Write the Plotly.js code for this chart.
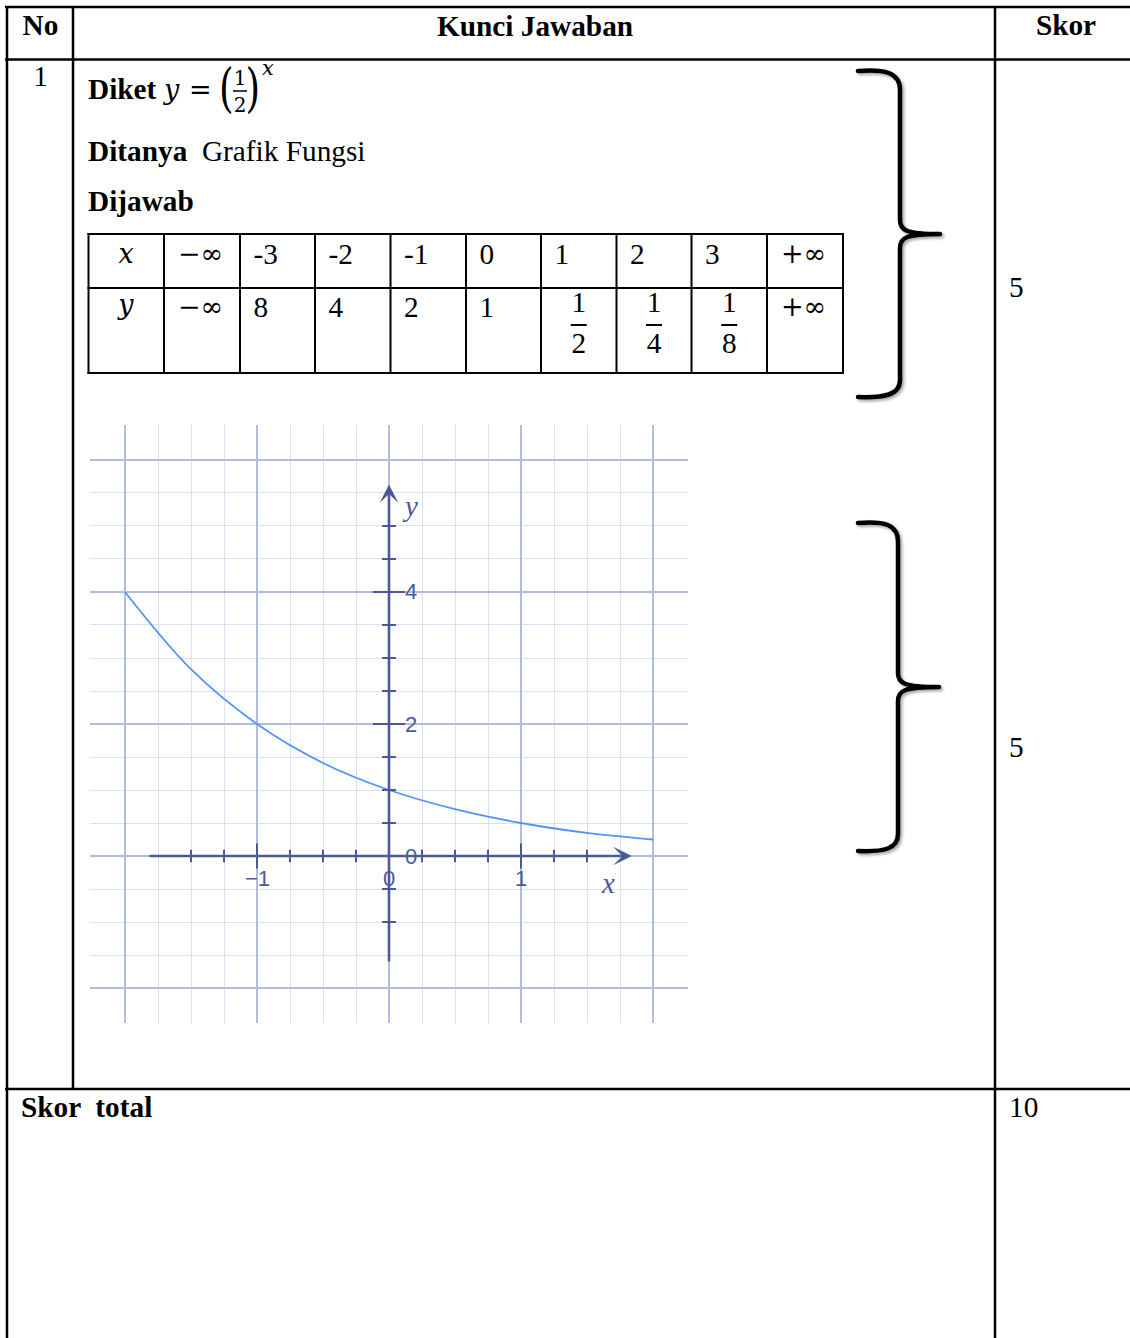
<!DOCTYPE html>
<html>
<head>
<meta charset="utf-8">
<script src="https://cdn.plot.ly/plotly-3.0.1.min.js"></script>
<style>
  html, body { margin: 0; padding: 0; background: #fff; width: 1130px; height: 1338px; overflow: hidden; }
  #sheet { position: absolute; left: 0; top: 0; }
  #graph { position: absolute; left: 90px; top: 425px; width: 598px; height: 598px; }
  text { white-space: pre; }
</style>
</head>
<body>
<svg id="sheet" width="1130" height="1338" xmlns="http://www.w3.org/2000/svg"></svg>
<div id="graph"></div>
<script>
// ---- value table for y = (1/2)^x ----
const tableXLabel = 'x';
const tableYLabel = 'y';
const tableXValues = ['\u2212\u221e', '-3', '-2', '-1', '0', '1', '2', '3', '+\u221e'];
const tableYValues = ['\u2212\u221e', '8', '4', '2', '1', '1/2', '1/4', '1/8', '+\u221e'];

// ---- scores ----
const scoreParts = ['5', '5'];
const scoreTotal = '10';

// ---- graph of the function ----
const curveX = [-2, -1.5, -1, -0.5, 0, 0.5, 1, 1.5, 2];
const curveY = [4, 2.83, 2, 1.41, 1, 0.71, 0.5, 0.35, 0.25];

const gridXMajor = [-2, -1, 0, 1, 2];
const gridXMinor = [-1.75, -1.5, -1.25, -0.75, -0.5, -0.25, 0.25, 0.5, 0.75, 1.25, 1.5, 1.75];
const gridYMajor = [-2, 0, 2, 4, 6];
const gridYMinor = [-1.5, -1, -0.5, 0.5, 1, 1.5, 2.5, 3, 3.5, 4.5, 5, 5.5];

const xTicksMajor = [-1, 0, 1];
const xTicksMinor = [-1.5, -1.25, -0.75, -0.5, -0.25, 0.25, 0.5, 0.75, 1.25, 1.5];
const yTicksMajor = [0, 2, 4];
const yTicksMinor = [-1, -0.5, 0.5, 1, 1.5, 2.5, 3, 3.5, 4.5, 5];

const xTickLabels = [{v: -1, t: '\u22121'}, {v: 0, t: '0'}, {v: 1, t: '1'}];
const yTickLabels = [{v: 0, t: '0'}, {v: 2, t: '2'}, {v: 4, t: '4'}];

// ---------------- document sheet (table, text, braces) ----------------
const NS = 'http://www.w3.org/2000/svg';
const svg = document.getElementById('sheet');
const SERIF = "'Liberation Serif', 'Times New Roman', serif";
const MATH = "'DejaVu Serif', 'Liberation Serif', serif";
const FS = 29.3;

function el(tag, attrs, parent) {
  const e = document.createElementNS(NS, tag);
  for (const k in attrs) e.setAttribute(k, attrs[k]);
  (parent || svg).appendChild(e);
  return e;
}
function line(x1, y1, x2, y2, w) {
  el('line', {x1, y1, x2, y2, stroke: '#000', 'stroke-width': w || 2.5});
}
function txt(str, x, y, opt) {
  opt = opt || {};
  const a = {
    x, y,
    'font-family': opt.family || SERIF,
    'font-size': opt.size || FS,
    'font-weight': opt.bold ? 'bold' : 'normal',
    'font-style': opt.italic ? 'italic' : 'normal',
    'text-anchor': opt.anchor || 'start',
    fill: '#000'
  };
  if (opt.transform) a.transform = opt.transform;
  const t = el('text', a);
  t.textContent = str;
  return t;
}

// outer table frame
line(5, 7, 1130, 7);
line(5, 59.5, 1130, 59.5);
line(5, 1089, 1130, 1089);
line(7, 6, 7, 1338);
line(73, 6, 73, 1089);
line(995, 6, 995, 1338);

// header
txt('No', 40.5, 35, {bold: true, anchor: 'middle'});
txt('Kunci Jawaban', 535, 36, {bold: true, anchor: 'middle'});
txt('Skor', 1066, 35, {bold: true, anchor: 'middle'});

// row 1
txt('1', 40.5, 86, {anchor: 'middle'});
txt('Diket', 88, 99, {bold: true});
txt('y', 164, 99, {italic: true, family: MATH, size: 27});
txt('=', 189, 99, {family: MATH, size: 27});
txt('(', 0, 0, {family: MATH, size: 52, transform: 'translate(219,106) scale(0.72,1)'});
txt('1', 240, 85, {family: MATH, size: 20, anchor: 'middle'});
el('line', {x1: 233, y1: 91, x2: 247, y2: 91, stroke: '#000', 'stroke-width': 1.5});
txt('2', 240, 112, {family: MATH, size: 20, anchor: 'middle'});
txt(')', 0, 0, {family: MATH, size: 52, transform: 'translate(245.5,106) scale(0.72,1)'});
txt('x', 262, 75, {italic: true, family: MATH, size: 21});

const t2 = el('text', {x: 88, y: 161, 'font-family': SERIF, 'font-size': FS, fill: '#000'});
const s1 = el('tspan', {'font-weight': 'bold'}, t2); s1.textContent = 'Ditanya';
const s2 = el('tspan', {}, t2); s2.textContent = '  Grafik Fungsi';
txt('Dijawab', 88, 211, {bold: true});

// value table
const colEdges = [88.5, 164, 240, 315, 390.5, 466, 541, 616.5, 691.5, 767, 843];
const rowTop = 234, rowMid = 288, rowBot = 373;
colEdges.forEach(x => line(x, rowTop - 1, x, rowBot + 1, 2));
[rowTop, rowMid, rowBot].forEach(y => line(colEdges[0] - 1, y, colEdges[colEdges.length - 1] + 1, y, 2));

txt(tableXLabel, 126, 263, {italic: true, family: MATH, size: 27, anchor: 'middle'});
txt(tableYLabel, 126, 314, {italic: true, family: MATH, size: 27, anchor: 'middle'});

function cellValue(v, i, baseline, fracTop, fracBot, barY) {
  const c0 = colEdges[i + 1];
  const cx = (c0 + colEdges[i + 2]) / 2;
  if (v.indexOf('/') > 0) {
    const [num, den] = v.split('/');
    txt(num, cx, fracTop, {anchor: 'middle'});
    el('line', {x1: cx - 8, y1: barY, x2: cx + 8, y2: barY, stroke: '#000', 'stroke-width': 2});
    txt(den, cx, fracBot, {anchor: 'middle'});
  } else if (v.indexOf('\u221e') >= 0) {
    txt(v, c0 + 14, baseline - 1, {family: MATH, size: 27});
  } else {
    txt(v, c0 + 13.5, baseline);
  }
}
tableXValues.forEach((v, i) => cellValue(v, i, 264));
tableYValues.forEach((v, i) => cellValue(v, i, 317, 312, 353, 325));

// scores
txt(scoreParts[0], 1009, 297);
txt(scoreParts[1], 1009, 757);
txt('Skor  total', 21, 1117, {bold: true});
txt(scoreTotal, 1009, 1117);

// curly braces
const defs = el('defs', {});
const flt = el('filter', {id: 'soft', x: '-20%', y: '-5%', width: '150%', height: '115%'}, defs);
el('feDropShadow', {dx: 2, dy: 2, stdDeviation: 1.6, 'flood-color': '#000', 'flood-opacity': 0.35}, flt);
function brace(top, bot, xv, tipX) {
  const mid = (top + bot) / 2;
  const d = `M858,${top + 1} C884,${top - 1} ${xv},${top + 2} ${xv},${top + 20} ` +
            `L${xv},${mid - 14} C${xv},${mid - 4} ${xv + 5},${mid} ${tipX},${mid} ` +
            `C${xv + 5},${mid} ${xv},${mid + 4} ${xv},${mid + 14} ` +
            `L${xv},${bot - 18} C${xv},${bot - 3} ${884},${bot} 858,${bot - 1}`;
  el('path', {d, fill: 'none', stroke: '#000', 'stroke-width': 4.5, 'stroke-linecap': 'round', 'stroke-linejoin': 'round', filter: 'url(#soft)'});
}
brace(70, 398, 900, 940);
brace(522, 852, 898, 939);

// ---------------- graph ----------------
const AX = '#4b5a96';
const LBL = '#4a5a9e';

const traces = [
  {x: curveX, y: curveY, mode: 'lines', line: {color: '#4f95f7', width: 1.8, shape: 'spline', smoothing: 1}, hoverinfo: 'skip'},
  {x: xTicksMinor, y: xTicksMinor.map(() => 0), mode: 'markers', marker: {symbol: 'line-ns', size: 9, line: {width: 2, color: AX}}, hoverinfo: 'skip'},
  {x: xTicksMajor, y: xTicksMajor.map(() => 0), mode: 'markers', marker: {symbol: 'line-ns', size: 18, line: {width: 2, color: AX}}, hoverinfo: 'skip'},
  {x: yTicksMinor.map(() => 0), y: yTicksMinor, mode: 'markers', marker: {symbol: 'line-ew', size: 10, line: {width: 2, color: AX}}, hoverinfo: 'skip'},
  {x: yTicksMajor.map(() => 0), y: yTicksMajor, mode: 'markers', marker: {symbol: 'line-ew', size: 23, line: {width: 2, color: AX}}, hoverinfo: 'skip'}
];

const lblFont = {family: "'Liberation Sans', Arial, sans-serif", size: 22, color: LBL};
const annotations = [
  // axes with arrow heads
  {x: 1.84, y: 0, ax: -1.826, ay: 0, xref: 'x', yref: 'y', axref: 'x', ayref: 'y', text: '', showarrow: true,
   arrowhead: 3, arrowsize: 1.2, arrowwidth: 2.6, arrowcolor: AX},
  {x: 0, y: 5.63, ax: 0, ay: -1.62, xref: 'x', yref: 'y', axref: 'x', ayref: 'y', text: '', showarrow: true,
   arrowhead: 3, arrowsize: 1.2, arrowwidth: 2.6, arrowcolor: AX},
  {x: 1.659, y: -0.41, text: '<i>x</i>', showarrow: false, font: {family: "'Liberation Serif', serif", size: 29, color: LBL}},
  {x: 0.16, y: 5.3, text: '<i>y</i>', showarrow: false, font: {family: "'Liberation Serif', serif", size: 29, color: LBL}}
];
xTickLabels.forEach(o => annotations.push({x: o.v, y: -0.34, text: o.t, showarrow: false, font: lblFont}));
yTickLabels.forEach(o => annotations.push({x: 0.167, y: o.v, text: o.t, showarrow: false, font: lblFont}));

const layout = {
  width: 598, height: 598,
  margin: {l: 0, r: 0, t: 0, b: 0, pad: 0},
  paper_bgcolor: 'rgba(0,0,0,0)',
  plot_bgcolor: '#fff',
  showlegend: false,
  xaxis: {
    range: [-2.2652, 2.2652], fixedrange: true, showticklabels: false, ticks: '', zeroline: false, showline: false,
    tickmode: 'array', tickvals: gridXMajor, showgrid: true, gridcolor: '#b2bcdc', gridwidth: 1.5,
    minor: {tickmode: 'array', tickvals: gridXMinor, showgrid: true, gridcolor: '#dbe0f0', gridwidth: 1, ticks: ''}
  },
  yaxis: {
    range: [-2.530, 6.530], fixedrange: true, showticklabels: false, ticks: '', zeroline: false, showline: false,
    tickmode: 'array', tickvals: gridYMajor, showgrid: true, gridcolor: '#b2bcdc', gridwidth: 1.5,
    minor: {tickmode: 'array', tickvals: gridYMinor, showgrid: true, gridcolor: '#dbe0f0', gridwidth: 1, ticks: ''}
  },
  annotations
};

Plotly.newPlot('graph', traces, layout, {displayModeBar: false, staticPlot: true});
</script>
</body>
</html>
